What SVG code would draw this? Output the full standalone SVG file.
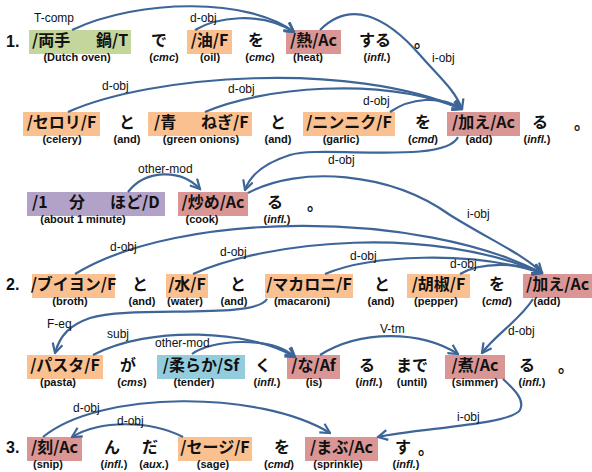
<svg xmlns="http://www.w3.org/2000/svg" width="592" height="472" viewBox="0 0 592 472">
<defs>
<style>
.m{font-family:"Noto Sans CJK JP","Noto Sans",sans-serif;font-weight:bold;font-size:16px;fill:#111}
.n{font-family:"Liberation Sans",Arial,sans-serif;font-weight:bold;font-size:16px;fill:#111}
.g{font-family:"Liberation Sans",Arial,sans-serif;font-weight:bold;font-size:11px;fill:#111;text-anchor:middle}
.l{font-family:"Liberation Sans",Arial,sans-serif;font-size:12px;fill:#111}
.c{text-anchor:middle}
.i{font-style:italic}
.F{fill:#fac090}.A{fill:#d99694}.T{fill:#c3d69b}.D{fill:#b3a2c7}.S{fill:#93cddd}
.e{fill:none;stroke:#3d6597;stroke-width:2.2;marker-end:url(#a)}
</style>
<marker id="a" viewBox="0 0 12 12" refX="10.5" refY="6" markerWidth="12" markerHeight="12" markerUnits="userSpaceOnUse" orient="auto"><path d="M1,1 L10.5,6 L1,11" fill="none" stroke="#3d6597" stroke-width="2.2"/></marker>
</defs>
<rect width="592" height="472" fill="#fff"/>

<!-- row numbers -->
<text class="n" x="6" y="47">1.</text>
<text class="n" x="6" y="290">2.</text>
<text class="n" x="6" y="453">3.</text>

<!-- Row 1 -->
<g id="n-ryoutenabe"><rect class="T" x="29" y="30" width="102" height="24"/><text class="m" y="46"><tspan x="32">/両手</tspan><tspan x="96">鍋/T</tspan></text><text class="g" x="77" y="61">(Dutch oven)</text></g>
<g id="w-de1"><text class="m c" x="159" y="46">で</text><text class="g" x="164" y="61">(<tspan class="i">cmc</tspan>)</text></g>
<g id="n-abura"><rect class="F" x="187" y="30" width="45" height="24"/><text class="m c" x="209.5" y="46">/油/F</text><text class="g" x="210" y="61">(oil)</text></g>
<g id="w-wo1"><text class="m c" x="256" y="46">を</text><text class="g" x="260" y="61">(<tspan class="i">cmc</tspan>)</text></g>
<g id="n-netsu"><rect class="A" x="286" y="30" width="55" height="24"/><text class="m c" x="313.5" y="46">/熱/Ac</text><text class="g" x="308" y="61">(heat)</text></g>
<g id="w-suru"><text class="m c" x="375" y="46">する</text><text class="g" x="377" y="61">(<tspan class="i">infl.</tspan>)</text></g>
<g id="w-p1"><text class="m" x="414" y="47">。</text></g>

<!-- Row 2 -->
<g id="n-serori"><rect class="F" x="23" y="112" width="77" height="24"/><text class="m c" x="61.5" y="128">/セロリ/F</text><text class="g" x="62" y="143">(celery)</text></g>
<g id="w-to1"><text class="m c" x="127" y="128">と</text><text class="g" x="127" y="143">(and)</text></g>
<g id="n-aonegi"><rect class="F" x="148" y="112" width="104" height="24"/><text class="m" y="128"><tspan x="154">/青</tspan><tspan x="201">ねぎ/F</tspan></text><text class="g" x="201" y="143">(green onions)</text></g>
<g id="w-to2"><text class="m c" x="278" y="128">と</text><text class="g" x="278" y="143">(and)</text></g>
<g id="n-ninniku"><rect class="F" x="303" y="112" width="92" height="24"/><text class="m c" x="349" y="128">/ニンニク/F</text><text class="g" x="341" y="143">(garlic)</text></g>
<g id="w-wo2"><text class="m c" x="423" y="128">を</text><text class="g" x="423" y="143">(<tspan class="i">cmd</tspan>)</text></g>
<g id="n-kuwae1"><rect class="A" x="447" y="112" width="73" height="24"/><text class="m c" x="483.5" y="128">/加え/Ac</text><text class="g" x="479" y="143">(add)</text></g>
<g id="w-ru1"><text class="m c" x="540" y="128">る</text><text class="g" x="537" y="143">(<tspan class="i">infl.</tspan>)</text></g>
<g id="w-p2"><text class="m" x="574" y="129">。</text></g>

<!-- Row 3 -->
<g id="n-ippunhodo"><rect class="D" x="27" y="192" width="138" height="24"/><text class="m" y="208"><tspan x="32">/1</tspan><tspan x="69">分</tspan><tspan x="110">ほど/D</tspan></text><text class="g" x="83" y="223">(about 1 minute)</text></g>
<g id="n-itame"><rect class="A" x="178" y="192" width="70" height="24"/><text class="m c" x="213" y="208">/炒め/Ac</text><text class="g" x="202" y="223">(cook)</text></g>
<g id="w-ru2"><text class="m c" x="275" y="208">る</text><text class="g" x="277" y="223">(<tspan class="i">infl.</tspan>)</text></g>
<g id="w-p3"><text class="m" x="307" y="210">。</text></g>

<!-- Row 4 -->
<g id="n-buiyon"><rect class="F" x="32" y="274" width="83" height="24"/><text class="m c" x="73.5" y="290">/ブイヨン/F</text><text class="g" x="70" y="305">(broth)</text></g>
<g id="w-to3"><text class="m c" x="140" y="290">と</text><text class="g" x="142" y="305">(and)</text></g>
<g id="n-mizu"><rect class="F" x="166" y="274" width="42" height="24"/><text class="m c" x="187" y="290">/水/F</text><text class="g" x="185" y="305">(water)</text></g>
<g id="w-to4"><text class="m c" x="238" y="290">と</text><text class="g" x="234" y="305">(and)</text></g>
<g id="n-makaroni"><rect class="F" x="265" y="274" width="88" height="24"/><text class="m c" x="309" y="290">/マカロニ/F</text><text class="g" x="302" y="305">(macaroni)</text></g>
<g id="w-to5"><text class="m c" x="382" y="290">と</text><text class="g" x="381" y="305">(and)</text></g>
<g id="n-koshou"><rect class="F" x="407" y="274" width="63" height="24"/><text class="m c" x="438.5" y="290">/胡椒/F</text><text class="g" x="436" y="305">(pepper)</text></g>
<g id="w-wo3"><text class="m c" x="497" y="290">を</text><text class="g" x="497" y="305">(<tspan class="i">cmd</tspan>)</text></g>
<g id="n-kuwae2"><rect class="A" x="523" y="274" width="69" height="24"/><text class="m" x="526" y="290">/加え/Ac</text><text class="g" x="547" y="305">(add)</text></g>

<!-- Row 5 -->
<g id="n-pasuta"><rect class="F" x="27" y="355" width="76" height="24"/><text class="m c" x="65" y="371">/パスタ/F</text><text class="g" x="58" y="386">(pasta)</text></g>
<g id="w-ga"><text class="m c" x="128" y="371">が</text><text class="g" x="132" y="386">(<tspan class="i">cms</tspan>)</text></g>
<g id="n-yawaraka"><rect class="S" x="157" y="355" width="88" height="24"/><text class="m c" x="201" y="371">/柔らか/Sf</text><text class="g" x="194" y="386">(tender)</text></g>
<g id="w-ku"><text class="m c" x="263" y="371">く</text><text class="g" x="267" y="386">(<tspan class="i">infl.</tspan>)</text></g>
<g id="n-na"><rect class="A" x="287" y="355" width="53" height="24"/><text class="m c" x="313.5" y="371">/な/Af</text><text class="g" x="314" y="386">(is)</text></g>
<g id="w-ru3"><text class="m c" x="367" y="371">る</text><text class="g" x="369" y="386">(<tspan class="i">infl.</tspan>)</text></g>
<g id="w-made"><text class="m c" x="412" y="371">まで</text><text class="g" x="412" y="386">(until)</text></g>
<g id="n-ni"><rect class="A" x="445" y="355" width="60" height="24"/><text class="m c" x="475" y="371">/煮/Ac</text><text class="g" x="475" y="386">(simmer)</text></g>
<g id="w-ru4"><text class="m c" x="527" y="371">る</text><text class="g" x="532" y="386">(<tspan class="i">infl.</tspan>)</text></g>
<g id="w-p4"><text class="m" x="558" y="372">。</text></g>

<!-- Row 6 -->
<g id="n-kizan"><rect class="A" x="27" y="437" width="55" height="24"/><text class="m c" x="54.5" y="453">/刻/Ac</text><text class="g" x="48" y="468">(snip)</text></g>
<g id="w-n"><text class="m c" x="112" y="453">ん</text><text class="g" x="114" y="468">(<tspan class="i">infl.</tspan>)</text></g>
<g id="w-da"><text class="m c" x="150" y="453">だ</text><text class="g" x="154" y="468">(<tspan class="i">aux.</tspan>)</text></g>
<g id="n-seeji"><rect class="F" x="178" y="437" width="74" height="24"/><text class="m c" x="215" y="453">/セージ/F</text><text class="g" x="213" y="468">(sage)</text></g>
<g id="w-wo4"><text class="m c" x="282" y="453">を</text><text class="g" x="279" y="468">(<tspan class="i">cmd</tspan>)</text></g>
<g id="n-mabu"><rect class="A" x="305" y="437" width="73" height="24"/><text class="m c" x="341.5" y="453">/まぶ/Ac</text><text class="g" x="338" y="468">(sprinkle)</text></g>
<g id="w-su"><text class="m c" x="403" y="453">す</text><text class="g" x="406" y="468">(<tspan class="i">infl.</tspan>)</text></g>
<g id="w-p5"><text class="m" x="418" y="454">。</text></g>

<!-- connectors -->
<g id="connectors">
<path class="e" d="M72 30 C140 -2 250 -2 294 32"/>
<path class="e" d="M195 30 C215 18 260 10 294 32"/>
<path class="e" d="M320 30 C350 0 385 15 420 55 C440 78 455 90 462 109"/>
<path class="e" d="M68 112 C150 75 350 60 462 109"/>
<path class="e" d="M205 112 C260 88 380 75 462 109"/>
<path class="e" d="M390 112 C410 98 440 95 462 109"/>
<path class="e" d="M458 137 C445 165 320 145 290 155 C265 163 250 175 245 190"/>
<path class="e" d="M128 192 C145 170 180 168 200 189"/>
<path class="e" d="M248 193 C300 165 390 172 450 215 C490 240 525 255 542 273"/>
<path class="e" d="M75 274 C180 210 420 210 542 273"/>
<path class="e" d="M193 274 C270 240 430 225 542 273"/>
<path class="e" d="M325 274 C370 255 470 250 542 273"/>
<path class="e" d="M460 274 C480 262 520 262 542 273"/>
<path class="e" d="M533 299 C520 320 495 335 482 353"/>
<path class="e" d="M267 299 C255 320 130 305 90 318 C70 325 60 335 55 353"/>
<path class="e" d="M93 355 C150 325 250 330 295 357"/>
<path class="e" d="M192 354 C210 340 270 335 295 357"/>
<path class="e" d="M320 355 C360 330 420 330 458 354"/>
<path class="e" d="M503 379 C515 390 525 400 520 410 C510 425 420 428 378 437"/>
<path class="e" d="M43 437 C100 390 260 390 330 433"/>
<path class="e" d="M183 437 C150 420 100 420 72 437"/>
</g>

<!-- connector labels -->
<g id="labels">
<text class="l" x="34" y="22">T-comp</text>
<text class="l" x="190" y="22">d-obj</text>
<text class="l" x="432" y="62">i-obj</text>
<text class="l" x="102" y="90">d-obj</text>
<text class="l" x="228" y="93">d-obj</text>
<text class="l" x="363" y="105">d-obj</text>
<text class="l" x="328" y="164">d-obj</text>
<text class="l" x="138" y="173">other-mod</text>
<text class="l" x="467" y="218">i-obj</text>
<text class="l" x="110" y="251">d-obj</text>
<text class="l" x="220" y="256">d-obj</text>
<text class="l" x="350" y="260">d-obj</text>
<text class="l" x="450" y="268">d-obj</text>
<text class="l" x="47" y="328">F-eq</text>
<text class="l" x="508" y="335">d-obj</text>
<text class="l" x="107" y="338">subj</text>
<text class="l" x="155" y="347">other-mod</text>
<text class="l" x="380" y="333">V-tm</text>
<text class="l" x="457" y="421">i-obj</text>
<text class="l" x="73" y="412">d-obj</text>
<text class="l" x="117" y="425">d-obj</text>
</g>
</svg>
